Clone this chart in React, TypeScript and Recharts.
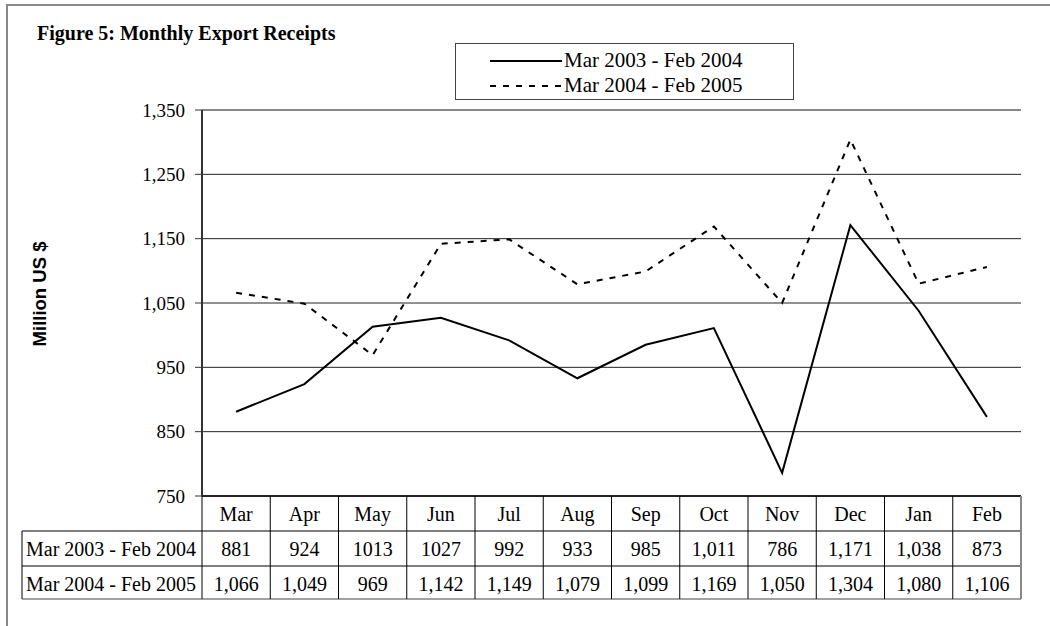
import React from 'react';
import {
  LineChart, Line, XAxis, YAxis, CartesianGrid, Legend, ReferenceLine,
} from 'recharts';

const months = ['Mar', 'Apr', 'May', 'Jun', 'Jul', 'Aug', 'Sep', 'Oct', 'Nov', 'Dec', 'Jan', 'Feb'];
const series1Name = 'Mar 2003 - Feb 2004';
const series2Name = 'Mar 2004 - Feb 2005';
const series1 = [881, 924, 1013, 1027, 992, 933, 985, 1011, 786, 1171, 1038, 873];
const series2 = [1066, 1049, 969, 1142, 1149, 1079, 1099, 1169, 1050, 1304, 1080, 1106];
// the table prints the first row with mixed formatting, as in the source
const series1Labels = ['881', '924', '1013', '1027', '992', '933', '985', '1,011', '786', '1,171', '1,038', '873'];
const yTicks = [750, 850, 950, 1050, 1150, 1250, 1350];

const data = months.map((m, i) => ({ month: m, s1: series1[i], s2: series2[i] }));

const W = 1050;
const H = 626;
const PLOT_LEFT = 202;
const PLOT_RIGHT = 1021;
const BAND = (PLOT_RIGHT - PLOT_LEFT) / months.length;
const SERIF = '"Liberation Serif", "Times New Roman", serif';
const SANS = '"Liberation Sans", Arial, sans-serif';
const fmt = (v: number) => v.toLocaleString('en-US');

// draws one column of the data table under the plot (header + two rows)
const TableTick = (props: any) => {
  const { x, y, payload } = props;
  const i = payload.index;
  const left = x - BAND / 2;
  const r1 = y + 35;
  const r2 = y + 70;
  const bottom = y + 103;
  const textStyle = { fontFamily: SERIF, fontSize: 20, fill: '#000' };
  return (
    <g>
      <line x1={left} x2={left} y1={y} y2={bottom} stroke="#000" strokeWidth={1} />
      {i === months.length - 1 && (
        <line x1={left + BAND} x2={left + BAND} y1={y} y2={bottom} stroke="#888" strokeWidth={2} />
      )}
      {i === 0 && (
        <g>
          <line x1={22} x2={PLOT_RIGHT} y1={r1} y2={r1} stroke="#000" strokeWidth={1} />
          <line x1={22} x2={PLOT_RIGHT} y1={r2} y2={r2} stroke="#000" strokeWidth={1} />
          <line x1={22} x2={PLOT_RIGHT} y1={bottom} y2={bottom} stroke="#444" strokeWidth={1} />
          <line x1={22} x2={22} y1={r1} y2={bottom} stroke="#000" strokeWidth={1} />
          <text x={26} y={r1 + 25} style={textStyle}>{series1Name}</text>
          <text x={26} y={r2 + 25} style={textStyle}>{series2Name}</text>
        </g>
      )}
      <text x={x} y={y + 25} textAnchor="middle" style={textStyle}>{payload.value}</text>
      <text x={x} y={r1 + 25} textAnchor="middle" style={textStyle}>{series1Labels[i]}</text>
      <text x={x} y={r2 + 25} textAnchor="middle" style={textStyle}>{fmt(series2[i])}</text>
    </g>
  );
};

const LegendBox = ({ payload }: any) => (
  <div style={{
    width: 339, height: 57, boxSizing: 'border-box', border: '1px solid #444',
    background: '#fff', fontFamily: SERIF, fontSize: 21, color: '#000', position: 'relative',
  }}>
    {(payload || []).map((entry: any, k: number) => (
      <div key={entry.value} style={{
        position: 'absolute', left: 34, top: 4 + k * 25, height: 25,
        display: 'flex', alignItems: 'center', whiteSpace: 'nowrap',
      }}>
        <svg width={74} height={10} style={{ marginRight: 0 }}>
          <line x1={0} x2={72} y1={5} y2={5} stroke="#000" strokeWidth={2}
            strokeDasharray={entry.payload?.strokeDasharray} />
        </svg>
        <span>{entry.value}</span>
      </div>
    ))}
  </div>
);

export default function App() {
  return (
    <div style={{ position: 'absolute', left: 0, top: 0, width: W, height: H, overflow: 'hidden', background: '#fff' }}>
      <div style={{
        position: 'absolute', left: 6, top: 4, width: W, height: H,
        borderLeft: '2px solid #888', borderTop: '2px solid #888',
      }} />
      <div style={{
        position: 'absolute', left: 37, top: 23, lineHeight: '20px',
        fontFamily: SERIF, fontSize: 20, fontWeight: 'bold', color: '#000', whiteSpace: 'nowrap',
      }}>
        Figure 5: Monthly Export Receipts
      </div>
      <LineChart
        width={W}
        height={H}
        data={data}
        margin={{ top: 110, right: W - PLOT_RIGHT, left: 0, bottom: 30 }}
        style={{ position: 'absolute', left: 0, top: 0 }}
      >
        <CartesianGrid horizontal vertical={false} stroke="#222" strokeWidth={1} />
        <XAxis
          dataKey="month"
          height={100}
          interval={0}
          padding={{ left: BAND / 2, right: BAND / 2 }}
          tickLine={false}
          tickSize={0}
          tickMargin={0}
          axisLine={{ stroke: '#222', strokeWidth: 2 }}
          tick={<TableTick />}
        />
        <YAxis
          width={PLOT_LEFT}
          domain={[750, 1350]}
          ticks={yTicks}
          interval={0}
          tickFormatter={fmt}
          tickSize={7}
          tickMargin={10}
          axisLine={{ stroke: '#333', strokeWidth: 2 }}
          tickLine={{ stroke: '#333' }}
          tick={{ fontFamily: SERIF, fontSize: 19, fill: '#000' }}
          label={{
            content: (p: any) => {
              const vb = p.viewBox || { y: 110, height: 386 };
              const cy = vb.y + vb.height / 2 - 9;
              return (
                <text x={39} y={cy} transform={`rotate(-90, 39, ${cy})`} textAnchor="middle"
                  dominantBaseline="central"
                  style={{ fontFamily: SANS, fontSize: 18.5, fontWeight: 'bold', fill: '#000' }}>
                  Million US $
                </text>
              );
            },
          }}
        />
        <YAxis
          yAxisId="frame"
          orientation="right"
          width={0}
          tick={false}
          tickLine={false}
          axisLine={{ stroke: '#888', strokeWidth: 2 }}
        />
        <ReferenceLine y={1350} stroke="#888" strokeWidth={2} />
        <Legend
          layout="horizontal"
          verticalAlign="middle"
          align="center"
          content={<LegendBox />}
          wrapperStyle={{ left: 455, top: 43, width: 339, height: 57 }}
        />
        <Line
          dataKey="s1"
          name={series1Name}
          stroke="#000"
          strokeWidth={2}
          dot={false}
          activeDot={false}
          isAnimationActive={false}
        />
        <Line
          dataKey="s2"
          name={series2Name}
          stroke="#000"
          strokeWidth={2}
          strokeDasharray="6 7"
          dot={false}
          activeDot={false}
          isAnimationActive={false}
        />
      </LineChart>
    </div>
  );
}
